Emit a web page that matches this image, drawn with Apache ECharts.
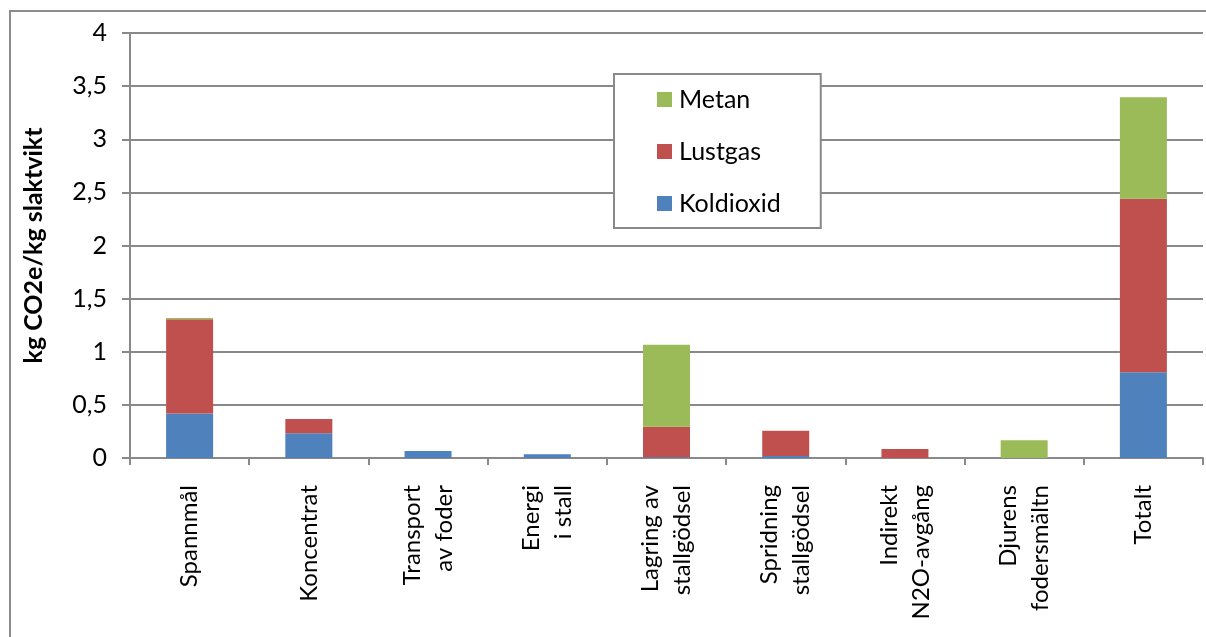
<!DOCTYPE html>
<html>
<head>
<meta charset="utf-8">
<script src="https://cdn.jsdelivr.net/npm/echarts@6/dist/echarts.min.js"></script>
<style>
  html, body { margin: 0; padding: 0; background: #fff; overflow: hidden; width: 1206px; height: 637px; }
  #frame { position: absolute; left: 9px; top: 10px; width: 1250px; height: 680px; border: 2px solid #8c8c8c; }
  #chart { position: absolute; left: 0; top: 0; width: 1206px; height: 637px; }
</style>
</head>
<body>
<div id="frame"></div>
<div id="chart"></div>
<script>
// kategorier
var categories = [
  'Spannmål', 'Koncentrat', 'Transport\nav foder', 'Energi\ni stall',
  'Lagring av\nstallgödsel', 'Spridning\nstallgödsel', 'Indirekt\nN2O-avgång',
  'Djurens\nfodersmältn', 'Totalt'
];

// kg CO2e / kg slaktvikt
var koldioxid = [0.42, 0.232, 0.066, 0.035, 0.006, 0.018, 0, 0, 0.806];
var lustgas   = [0.885, 0.135, 0, 0, 0.288, 0.239, 0.085, 0, 1.634];
var metan     = [0.013, 0, 0, 0, 0.773, 0, 0, 0.167, 0.955];

var yTicks = { min: 0, max: 4, interval: 0.5 };

var colors = { metan: '#9BBB59', lustgas: '#C0504D', koldioxid: '#4F81BD' };
var gray = '#898989';
var font = 'Lato';

var chart = echarts.init(document.getElementById('chart'));

var option = {
  animation: false,
  grid: { left: 130, right: 3, top: 33, bottom: 179, containLabel: false },
  legend: {
    data: ['Metan', 'Lustgas', 'Koldioxid'],
    orient: 'vertical',
    left: 614,
    top: 74,
    padding: [13, 40, 12, 43],
    itemGap: 27,
    itemWidth: 15,
    itemHeight: 15,
    icon: 'rect',
    backgroundColor: '#fff',
    borderColor: gray,
    borderWidth: 2,
    borderRadius: 0,
    selectedMode: false,
    textStyle: { fontFamily: font, fontSize: 25, color: '#000', padding: [0, 0, 0, 2] }
  },
  xAxis: {
    type: 'category',
    data: categories,
    axisLine: { lineStyle: { color: gray, width: 2 } },
    axisTick: { show: true, length: 7, lineStyle: { color: gray, width: 2 } },
    axisLabel: {
      rotate: 90,
      interval: 0,
      margin: 27,
      fontFamily: font,
      fontSize: 24,
      lineHeight: 32,
      color: '#000'
    }
  },
  yAxis: {
    type: 'value',
    min: yTicks.min,
    max: yTicks.max,
    interval: yTicks.interval,
    name: 'kg CO2e/kg slaktvikt',
    nameLocation: 'middle',
    nameGap: 84,
    nameRotate: 90,
    nameTextStyle: { fontFamily: font, fontWeight: 'bold', fontSize: 25, color: '#000' },
    axisLine: { show: true, lineStyle: { color: gray, width: 2 } },
    axisTick: { show: true, inside: false, length: 8, lineStyle: { color: gray, width: 2 } },
    splitLine: { lineStyle: { color: gray, width: 2 } },
    axisLabel: {
      margin: 23,
      fontFamily: font,
      fontSize: 25,
      color: '#000',
      formatter: function (v) { return String(v).replace('.', ','); }
    }
  },
  series: [
    {
      name: 'Koldioxid', type: 'bar', stack: 'tot', data: koldioxid, barWidth: 47,
      itemStyle: { color: colors.koldioxid }
    },
    {
      name: 'Lustgas', type: 'bar', stack: 'tot', data: lustgas, barWidth: 47,
      itemStyle: { color: colors.lustgas }
    },
    {
      name: 'Metan', type: 'bar', stack: 'tot', data: metan, barWidth: 47,
      itemStyle: { color: colors.metan }
    }
  ]
};

chart.setOption(option);
</script>
</body>
</html>
